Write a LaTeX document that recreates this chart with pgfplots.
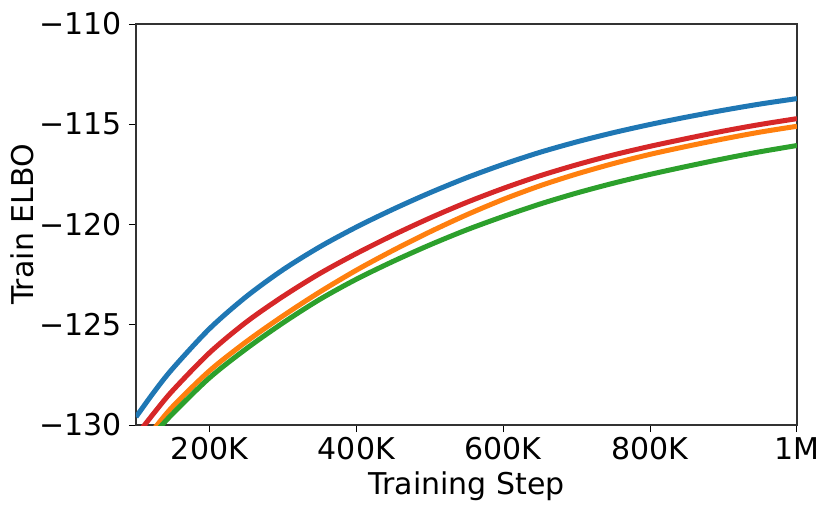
\documentclass[border=0pt]{standalone}
\usepackage{pgfplots}
\pgfplotsset{compat=1.18}
\usepackage{fontspec}
\setmainfont{DejaVu Sans}
\definecolor{tabblue}{HTML}{1F77B4}
\definecolor{taborange}{HTML}{FF7F0E}
\definecolor{tabgreen}{HTML}{2CA02C}
\definecolor{tabred}{HTML}{D62728}
\begin{document}
\fontsize{15}{18}\selectfont
\begin{tikzpicture}
\path[use as bounding box] (-68pt,-42.5pt) rectangle (347.5pt,212.5pt);
\begin{axis}[
  at={(0,0)}, anchor=south west,
  scale only axis, width=330.5pt, height=200.5pt,
  xmin=100, xmax=1000, ymin=-130, ymax=-110,
  xtick={200,400,600,800,1000},
  xticklabels={200K,400K,600K,800K,1M},
  ytick={-130,-125,-120,-115,-110},
  yticklabels={−130,−125,−120,−115,−110},
  tick align=outside, major tick length=3.5pt,
  tick style={black, line width=0.5pt},
  xtick pos=bottom, ytick pos=left,
  axis line style={line width=0.6pt, black!80},
  tick label style={font=\fontsize{15}{18}\selectfont},
  xticklabel style={yshift=2.5pt},
  yticklabel style={xshift=1.5pt},
  label style={font=\fontsize{15}{18}\selectfont},
  xlabel={Training Step}, ylabel={Train ELBO},
  every axis x label/.style={at={(axis description cs:0.5,0)}, anchor=center, yshift=-30.5pt},
  every axis y label/.style={at={(axis description cs:0,0.5)}, anchor=center, xshift=-57pt, rotate=90},
  clip=true,
]
\addplot[tabblue, line width=2.5pt, smooth, tension=0.5] coordinates {
(100,-129.6) (125,-128.33) (150,-127.18) (200,-125.2) (250,-123.6) (300,-122.26)
(350,-121.12) (400,-120.13) (450,-119.24) (500,-118.42) (550,-117.67) (600,-117.0)
(650,-116.40) (700,-115.88) (750,-115.42) (800,-115.01) (850,-114.64) (900,-114.30)
(950,-113.99) (1000,-113.72)};
\addplot[tabred, line width=2.5pt, smooth, tension=0.5] coordinates {
(100,-130.55) (125,-129.38) (150,-128.28) (200,-126.4) (250,-124.87) (300,-123.59)
(350,-122.45) (400,-121.45) (450,-120.53) (500,-119.68) (550,-118.9) (600,-118.2)
(650,-117.57) (700,-117.02) (750,-116.53) (800,-116.10) (850,-115.71) (900,-115.34)
(950,-115.01) (1000,-114.72)};
\addplot[taborange, line width=2.5pt, smooth, tension=0.5] coordinates {
(125,-130.18) (150,-129.08) (200,-127.3) (250,-125.85) (300,-124.56)
(350,-123.37) (400,-122.28) (450,-121.29) (500,-120.37) (550,-119.52) (600,-118.75)
(650,-118.07) (700,-117.48) (750,-116.96) (800,-116.50) (850,-116.10) (900,-115.73)
(950,-115.39) (1000,-115.10)};
\addplot[tabgreen, line width=2.5pt, smooth, tension=0.5] coordinates {
(125,-130.43) (150,-129.43) (200,-127.65) (250,-126.2) (300,-124.91)
(350,-123.74) (400,-122.73) (450,-121.84) (500,-121.02) (550,-120.27) (600,-119.6)
(650,-118.98) (700,-118.43) (750,-117.94) (800,-117.50) (850,-117.10) (900,-116.72)
(950,-116.37) (1000,-116.06)};
\end{axis}
\end{tikzpicture}
\end{document}
